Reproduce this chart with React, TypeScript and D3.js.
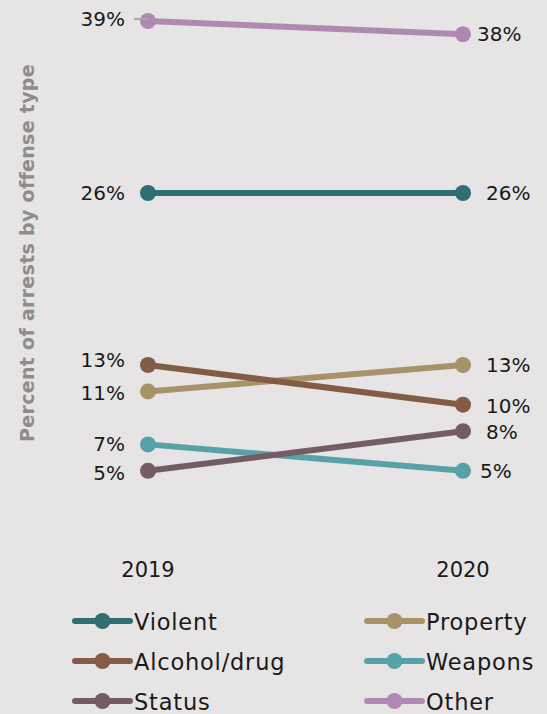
import React from "react";
import * as d3 from "d3";

const categories = ["Violent", "Property", "Alcohol/drug", "Weapons", "Status", "Other"];
const years = ["2019", "2020"];
const values2019 = [26, 11, 13, 7, 5, 39];
const values2020 = [26, 13, 10, 5, 8, 38];
const colors = ["#2f6e72", "#a89268", "#845c46", "#57a2a7", "#735c66", "#b089b2"];
const yAxisTitle = "Percent of arrests by offense type";
// label nudges (px) for overlapping labels
const leftNudgeY = [0, 2, -5, 0, 2, -2];
const rightNudgeY = [0, 0, 1, 0, 1, 0];
const rightNudgeX = [0, 0, 0, -6, 0, -9];

const W = 547;
const H = 714;
const FONT = "'DejaVu Sans', sans-serif";

export default function App() {
  const x = d3.scalePoint<string>().domain(years).range([148, 463]);
  const y = d3.scaleLinear().domain([0, 39]).range([537, 21]);
  const line = d3.line<[number, number]>().x((d) => d[0]).y((d) => d[1]);

  return (
    <svg
      width={W}
      height={H}
      style={{ display: "block", position: "absolute", left: 0, top: 0, background: "#e6e4e4" }}
    >
      <rect width={W} height={H} fill="#e6e4e4" />
      <text
        transform={`translate(34,253) rotate(-90)`}
        textAnchor="middle"
        fontFamily={FONT}
        fontWeight="bold"
        fontSize={19}
        letterSpacing={0.3}
        fill="#8e8d8d"
      >
        {yAxisTitle}
      </text>
      {categories.map((c, i) => {
        const pts: [number, number][] = [
          [x("2019")!, y(values2019[i])],
          [x("2020")!, y(values2020[i])],
        ];
        return (
          <g key={c}>
            <path d={line(pts) || ""} stroke={colors[i]} strokeWidth={6} fill="none" />
            {pts.map((p, j) => (
              <circle key={j} cx={p[0]} cy={p[1]} r={8} fill={colors[i]} />
            ))}
          </g>
        );
      })}
      {/* leader line for 39% */}
      <line x1={134} x2={x("2019")!} y1={y(39) - 2} y2={y(39) - 2} stroke="#a8a8a8" strokeWidth={2} />
      {categories.map((c, i) => (
        <g key={"lab" + c} fontFamily={FONT} fontSize={20} fill="#1a1a1a">
          <text
            x={125}
            y={y(values2019[i]) + leftNudgeY[i]}
            textAnchor="end"
            dominantBaseline="central"
          >
            {values2019[i]}%
          </text>
          <text
            x={486 + rightNudgeX[i]}
            y={y(values2020[i]) + rightNudgeY[i]}
            textAnchor="start"
            dominantBaseline="central"
          >
            {values2020[i]}%
          </text>
        </g>
      ))}
      {years.map((yr) => (
        <text
          key={yr}
          x={x(yr)!}
          y={577}
          textAnchor="middle"
          fontFamily={FONT}
          fontSize={21}
          fill="#1a1a1a"
        >
          {yr}
        </text>
      ))}
      {categories.map((c, k) => {
        const col = k % 2;
        const row = Math.floor(k / 2);
        const lx = col === 0 ? 75 : 367;
        const ly = 621 + row * 40;
        return (
          <g key={"leg" + c}>
            <line x1={lx} x2={lx + 55} y1={ly} y2={ly} stroke={colors[k]} strokeWidth={6} strokeLinecap="round" />
            <circle cx={lx + 27.5} cy={ly} r={8} fill={colors[k]} />
            <text
              x={lx + 59}
              y={ly + 1}
              dominantBaseline="central"
              fontFamily={FONT}
              fontSize={22.5}
              letterSpacing={0.8}
              fill="#1a1a1a"
            >
              {c}
            </text>
          </g>
        );
      })}
    </svg>
  );
}
